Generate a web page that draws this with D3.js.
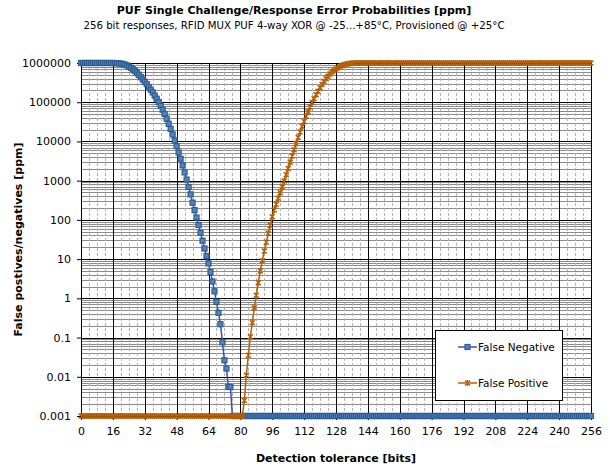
<!DOCTYPE html>
<html>
<head>
<meta charset="utf-8">
<script src="https://cdn.jsdelivr.net/npm/d3@7"></script>
<style>
  body { margin: 0; background: #fff; }
  text { font-family: Tahoma, "DejaVu Sans", sans-serif; fill: #000; }
</style>
</head>
<body>
<div id="chart"></div>
<script>
// tick labels
var xTicks = [0, 16, 32, 48, 64, 80, 96, 112, 128, 144, 160, 176, 192, 208, 224, 240, 256];
var yTicks = [0.001, 0.01, 0.1, 1, 10, 100, 1000, 10000, 100000, 1000000];
var yTickLabels = ["0.001", "0.01", "0.1", "1", "10", "100", "1000", "10000", "100000", "1000000"];
var seriesNames = ["False Negative", "False Positive"];

// error probabilities in ppm, one value per detection tolerance 0..256 bits
// (0.001 = floor of the axis, where nothing was counted)
var falseNegative = [
  1e6,1e6,1e6,1e6,1e6,1e6,1e6,1e6,1e6,1e6,1e6,1e6,1e6,1e6,1e6,1e6,
  1e6,995000,989000,977000,966000,944000,912000,871000,813000,759000,692000,631000,562000,501000,437000,380000,
  331000,288000,245000,209000,178000,148000,123000,100000,81300,64600,50100,38000,28200,20900,15100,10700,
  7590,5250,3630,2450,1620,1070,692,447,275,178,115,74.1,46.8,29.5,18.6,12.0,
  7.76,4.68,2.69,1.51,0.813,0.427,0.219,0.0759,0.0263,0.0162,0.0055,0.0055,1e-3,1e-3,1e-3,1e-3,
  1e-3,1e-3,1e-3,1e-3,1e-3,1e-3,1e-3,1e-3,1e-3,1e-3,1e-3,1e-3,1e-3,1e-3,1e-3,1e-3,
  1e-3,1e-3,1e-3,1e-3,1e-3,1e-3,1e-3,1e-3,1e-3,1e-3,1e-3,1e-3,1e-3,1e-3,1e-3,1e-3,
  1e-3,1e-3,1e-3,1e-3,1e-3,1e-3,1e-3,1e-3,1e-3,1e-3,1e-3,1e-3,1e-3,1e-3,1e-3,1e-3,
  1e-3,1e-3,1e-3,1e-3,1e-3,1e-3,1e-3,1e-3,1e-3,1e-3,1e-3,1e-3,1e-3,1e-3,1e-3,1e-3,
  1e-3,1e-3,1e-3,1e-3,1e-3,1e-3,1e-3,1e-3,1e-3,1e-3,1e-3,1e-3,1e-3,1e-3,1e-3,1e-3,
  1e-3,1e-3,1e-3,1e-3,1e-3,1e-3,1e-3,1e-3,1e-3,1e-3,1e-3,1e-3,1e-3,1e-3,1e-3,1e-3,
  1e-3,1e-3,1e-3,1e-3,1e-3,1e-3,1e-3,1e-3,1e-3,1e-3,1e-3,1e-3,1e-3,1e-3,1e-3,1e-3,
  1e-3,1e-3,1e-3,1e-3,1e-3,1e-3,1e-3,1e-3,1e-3,1e-3,1e-3,1e-3,1e-3,1e-3,1e-3,1e-3,
  1e-3,1e-3,1e-3,1e-3,1e-3,1e-3,1e-3,1e-3,1e-3,1e-3,1e-3,1e-3,1e-3,1e-3,1e-3,1e-3,
  1e-3,1e-3,1e-3,1e-3,1e-3,1e-3,1e-3,1e-3,1e-3,1e-3,1e-3,1e-3,1e-3,1e-3,1e-3,1e-3,
  1e-3,1e-3,1e-3,1e-3,1e-3,1e-3,1e-3,1e-3,1e-3,1e-3,1e-3,1e-3,1e-3,1e-3,1e-3,1e-3,
  1e-3
];

var falsePositive = [
  1e-3,1e-3,1e-3,1e-3,1e-3,1e-3,1e-3,1e-3,1e-3,1e-3,1e-3,1e-3,1e-3,1e-3,1e-3,1e-3,
  1e-3,1e-3,1e-3,1e-3,1e-3,1e-3,1e-3,1e-3,1e-3,1e-3,1e-3,1e-3,1e-3,1e-3,1e-3,1e-3,
  1e-3,1e-3,1e-3,1e-3,1e-3,1e-3,1e-3,1e-3,1e-3,1e-3,1e-3,1e-3,1e-3,1e-3,1e-3,1e-3,
  1e-3,1e-3,1e-3,1e-3,1e-3,1e-3,1e-3,1e-3,1e-3,1e-3,1e-3,1e-3,1e-3,1e-3,1e-3,1e-3,
  1e-3,1e-3,1e-3,1e-3,1e-3,1e-3,1e-3,1e-3,1e-3,1e-3,1e-3,1e-3,1e-3,1e-3,1e-3,1e-3,
  1e-3,1e-3,0.0025,0.011,0.0355,0.105,0.24,0.575,1.2,2.51,5.01,9.12,16.2,26.9,45.7,72.4,
  120,178,251,355,490,692,977,1410,2040,2950,4270,6170,8910,12600,17400,24000,
  32400,43700,57500,75900,97700,123000,155000,191000,234000,282000,339000,398000,457000,525000,589000,646000,
  708000,759000,813000,861000,902000,933000,955000,971000,982000,989000,993000,995000,998000,1e6,1e6,1e6,
  1e6,1e6,1e6,1e6,1e6,1e6,1e6,1e6,1e6,1e6,1e6,1e6,1e6,1e6,1e6,1e6,
  1e6,1e6,1e6,1e6,1e6,1e6,1e6,1e6,1e6,1e6,1e6,1e6,1e6,1e6,1e6,1e6,
  1e6,1e6,1e6,1e6,1e6,1e6,1e6,1e6,1e6,1e6,1e6,1e6,1e6,1e6,1e6,1e6,
  1e6,1e6,1e6,1e6,1e6,1e6,1e6,1e6,1e6,1e6,1e6,1e6,1e6,1e6,1e6,1e6,
  1e6,1e6,1e6,1e6,1e6,1e6,1e6,1e6,1e6,1e6,1e6,1e6,1e6,1e6,1e6,1e6,
  1e6,1e6,1e6,1e6,1e6,1e6,1e6,1e6,1e6,1e6,1e6,1e6,1e6,1e6,1e6,1e6,
  1e6,1e6,1e6,1e6,1e6,1e6,1e6,1e6,1e6,1e6,1e6,1e6,1e6,1e6,1e6,1e6,
  1e6
];

var width = 610;
var height = 470;
var margin = {top: 63, right: 19, bottom: 54, left: 81};

var blueLine = "#4848b8";
var blueMark = "#2c5d93";
var orangeLine = "#b65f06";

var svg = d3.select("#chart").append("svg")
  .attr("width", width)
  .attr("height", height);

var xScale = d3.scaleLinear()
  .domain([0, 256])
  .range([margin.left, width - margin.right]);

var yScale = d3.scaleLog()
  .domain([0.001, 1000000])
  .range([height - margin.bottom, margin.top]);

// grid: minor first, then majors on top
var minorX = d3.range(0, 257, 4).filter(function(d) { return d % 16 != 0; });
var minorY = [];
for (var k = -3; k < 6; k++) {
  for (var m = 2; m < 10; m++) minorY.push(m * Math.pow(10, k));
}

var grid = svg.append("g").attr("class", "grid");

grid.selectAll("line.minorY").data(minorY).enter().append("line")
  .attr("x1", margin.left).attr("x2", width - margin.right)
  .attr("y1", function(d) { return Math.round(yScale(d)) + 0.5; })
  .attr("y2", function(d) { return Math.round(yScale(d)) + 0.5; })
  .attr("stroke", "#8c8c8c").attr("stroke-width", 1);

grid.selectAll("line.minorX").data(minorX).enter().append("line")
  .attr("x1", function(d) { return Math.round(xScale(d)) + 0.5; })
  .attr("x2", function(d) { return Math.round(xScale(d)) + 0.5; })
  .attr("y1", margin.top).attr("y2", height - margin.bottom)
  .attr("stroke", "#b4b4b4").attr("stroke-width", 1)
  .attr("stroke-dasharray", "3,2");

grid.selectAll("line.majorY").data(yTicks).enter().append("line")
  .attr("x1", margin.left).attr("x2", width - margin.right)
  .attr("y1", function(d) { return Math.round(yScale(d)) + 0.5; })
  .attr("y2", function(d) { return Math.round(yScale(d)) + 0.5; })
  .attr("stroke", "#000").attr("stroke-width", 1);

grid.selectAll("line.majorX").data(xTicks).enter().append("line")
  .attr("x1", function(d) { return Math.round(xScale(d)) + 0.5; })
  .attr("x2", function(d) { return Math.round(xScale(d)) + 0.5; })
  .attr("y1", margin.top).attr("y2", height - margin.bottom)
  .attr("stroke", "#000").attr("stroke-width", 1);

// axes
var xAxis = d3.axisBottom(xScale).tickValues(xTicks).tickSize(4).tickPadding(7);
var yAxis = d3.axisLeft(yScale).tickValues(yTicks)
  .tickFormat(function(d, i) { return yTickLabels[i]; })
  .tickSize(4).tickPadding(6);

svg.append("g")
  .attr("class", "xAxis")
  .attr("transform", "translate(0," + (height - margin.bottom) + ")")
  .call(xAxis)
  .call(function(g) { g.select(".domain").remove(); })
  .selectAll("text").attr("font-size", 11).attr("font-family", null);

svg.append("g")
  .attr("class", "yAxis")
  .attr("transform", "translate(" + margin.left + ",0)")
  .call(yAxis)
  .call(function(g) { g.select(".domain").remove(); })
  .selectAll("text").attr("font-size", 11).attr("font-family", null);

svg.selectAll(".tick line").attr("stroke", "#000");

// plot border
svg.append("rect")
  .attr("x", margin.left + 0.5).attr("y", margin.top + 0.5)
  .attr("width", width - margin.left - margin.right)
  .attr("height", height - margin.top - margin.bottom)
  .attr("fill", "none").attr("stroke", "#000");

// series
var line = d3.line()
  .x(function(d, i) { return xScale(i); })
  .y(function(d) { return yScale(d); });

var starPath = "M-2.5,-2.5L2.5,2.5M-2.5,2.5L2.5,-2.5M0,-3L0,3";

svg.append("path")
  .datum(falseNegative)
  .attr("fill", "none").attr("stroke", blueLine).attr("stroke-width", 1.5)
  .attr("d", line);

svg.append("g").selectAll("rect").data(falseNegative).enter().append("rect")
  .attr("x", function(d, i) { return xScale(i) - 2.5; })
  .attr("y", function(d) { return yScale(d) - 2.5; })
  .attr("width", 5).attr("height", 5)
  .attr("fill", "#5582b8").attr("stroke", blueMark).attr("stroke-width", 1.2);

svg.append("path")
  .datum(falsePositive)
  .attr("fill", "none").attr("stroke", orangeLine).attr("stroke-width", 1.5)
  .attr("d", line);

svg.append("g").selectAll("path").data(falsePositive).enter().append("path")
  .attr("transform", function(d, i) { return "translate(" + xScale(i) + "," + yScale(d) + ")"; })
  .attr("d", starPath)
  .attr("fill", "none").attr("stroke", orangeLine).attr("stroke-width", 1.4);

// legend
var legend = svg.append("g").attr("class", "legend");
legend.append("rect")
  .attr("x", 435.5).attr("y", 330.5).attr("width", 127).attr("height", 70)
  .attr("fill", "#fff").attr("stroke", "#000");

var legendY = [347, 383];
seriesNames.forEach(function(name, i) {
  var g = legend.append("g").attr("transform", "translate(458," + legendY[i] + ")");
  g.append("line").attr("x1", 0).attr("x2", 19).attr("y1", 0).attr("y2", 0)
    .attr("stroke", i == 0 ? blueLine : orangeLine).attr("stroke-width", 1.5);
  if (i == 0) {
    g.append("rect").attr("x", 7).attr("y", -2.5).attr("width", 5).attr("height", 5)
      .attr("fill", "#5582b8").attr("stroke", blueMark).attr("stroke-width", 1.2);
  } else {
    g.append("path").attr("transform", "translate(9.5,0)").attr("d", starPath)
      .attr("fill", "none").attr("stroke", orangeLine).attr("stroke-width", 1.4);
  }
  g.append("text").attr("x", 20).attr("y", 0).attr("dy", "0.35em")
    .attr("font-size", 10.5).text(name);
});

// titles
svg.append("text")
  .attr("x", 294).attr("y", 14)
  .attr("text-anchor", "middle").attr("font-size", 11).attr("font-weight", "bold")
  .text("PUF Single Challenge/Response Error Probabilities [ppm]");

svg.append("text")
  .attr("x", 294).attr("y", 29)
  .attr("text-anchor", "middle").attr("font-size", 10.2)
  .text("256 bit responses, RFID MUX PUF 4-way XOR @ -25...+85°C, Provisioned @ +25°C");

svg.append("text")
  .attr("x", (margin.left + width - margin.right) / 2).attr("y", 462)
  .attr("text-anchor", "middle").attr("font-size", 11).attr("font-weight", "bold")
  .text("Detection tolerance [bits]");

svg.append("text")
  .attr("transform", "translate(22," + ((margin.top + height - margin.bottom) / 2) + ") rotate(-90)")
  .attr("text-anchor", "middle").attr("font-size", 11).attr("font-weight", "bold")
  .text("False postives/negatives [ppm]");
</script>
</body>
</html>
